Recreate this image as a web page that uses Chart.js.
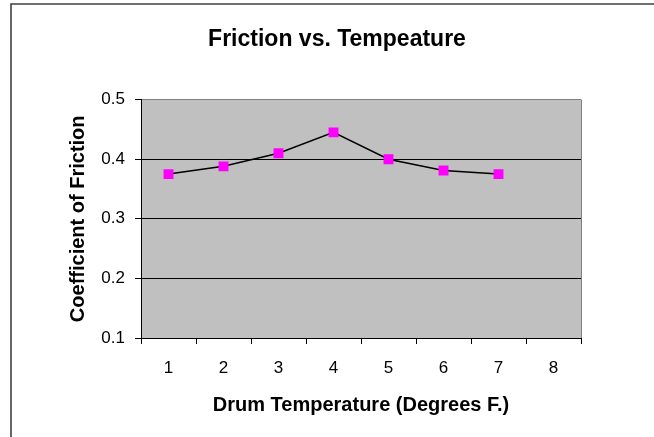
<!DOCTYPE html>
<html>
<head>
<meta charset="utf-8">
<script src="https://cdn.jsdelivr.net/npm/chart.js@4/dist/chart.umd.min.js"></script>
<style>
  html, body { margin: 0; padding: 0; background: #ffffff; }
  #c { display: block; }
</style>
</head>
<body>
<canvas id="c" width="654" height="437"></canvas>
<script>
// ---- data ----
const categories = ['1', '2', '3', '4', '5', '6', '7', '8'];
const frictionValues = [0.375, 0.388, 0.41, 0.445, 0.40, 0.381, 0.375];
const yTickMin = 0.1;
const yTickMax = 0.5;
const yTickStep = 0.1;
const chartTitle = 'Friction vs. Tempeature';
const xAxisTitle = 'Drum Temperature (Degrees F.)';
const yAxisTitle = 'Coefficient of Friction';

const FONT = '"Liberation Sans", Arial, sans-serif';

const plotBackground = {
  id: 'plotBackground',
  beforeDraw(chart) {
    const { ctx, chartArea: a } = chart;
    ctx.save();
    ctx.fillStyle = '#c0c0c0';
    ctx.fillRect(a.left, a.top, a.right - a.left, a.bottom - a.top);
    ctx.restore();
  },
  afterDraw(chart) {
    const { ctx, chartArea: a } = chart;
    ctx.save();
    // plot area right border (gray)
    ctx.strokeStyle = '#808080';
    ctx.lineWidth = 1;
    ctx.beginPath();
    ctx.moveTo(Math.round(a.right) + 0.5, a.top);
    ctx.lineTo(Math.round(a.right) + 0.5, a.bottom);
    ctx.stroke();
    // outer chart frame
    ctx.strokeStyle = '#404040';
    ctx.lineWidth = 1.6;
    ctx.beginPath();
    ctx.moveTo(11, 700);
    ctx.lineTo(11, 4);
    ctx.lineTo(900, 4);
    ctx.stroke();
    ctx.restore();
  }
};

new Chart(document.getElementById('c'), {
  type: 'line',
  data: {
    labels: categories,
    datasets: [{
      data: frictionValues,
      borderColor: '#000000',
      borderWidth: 1.5,
      pointStyle: 'rect',
      pointRadius: 7,
      pointBackgroundColor: '#ff00ff',
      pointBorderColor: '#ff00ff',
      pointBorderWidth: 0,
      tension: 0,
      fill: false
    }]
  },
  options: {
    responsive: false,
    animation: false,
    devicePixelRatio: 1,
    layout: { padding: { left: 20, right: 0, top: 0, bottom: 0 } },
    plugins: {
      legend: { display: false },
      tooltip: { enabled: false },
      title: {
        display: true,
        text: chartTitle,
        color: '#000000',
        font: { family: FONT, size: 23, weight: 'bold' },
        padding: { top: 26, bottom: 46 }
      }
    },
    scales: {
      x: {
        type: 'category',
        offset: true,
        grid: {
          offset: true,
          drawOnChartArea: false,
          drawTicks: true,
          tickLength: 6,
          color: '#000000'
        },
        border: { display: true, color: '#000000', width: 1 },
        ticks: {
          color: '#000000',
          font: { family: FONT, size: 17 },
          padding: 14,
          maxRotation: 0,
          autoSkip: false
        },
        title: {
          display: true,
          text: xAxisTitle,
          color: '#000000',
          font: { family: FONT, size: 20, weight: 'bold' },
          padding: { top: 0, bottom: 20 }
        },
        afterFit(scale) { scale.height = 99; }
      },
      y: {
        type: 'linear',
        position: 'left',
        min: yTickMin,
        max: yTickMax,
        grid: {
          drawTicks: true,
          tickLength: 6,
          color: (ctx) => (ctx.tick && Math.abs(ctx.tick.value - yTickMax) < 1e-9) ? '#808080' : '#000000',
          tickColor: '#000000'
        },
        border: { display: true, color: '#000000', width: 1 },
        ticks: {
          stepSize: yTickStep,
          color: '#000000',
          font: { family: FONT, size: 17 },
          padding: 10,
          callback: (v) => Number(v).toFixed(1)
        },
        title: {
          display: true,
          text: yAxisTitle,
          color: '#000000',
          font: { family: FONT, size: 20, weight: 'bold' },
          padding: { top: 46, bottom: 0 }
        },
        afterFit(scale) { scale.width = 121; }
      },
      yRightSpace: {
        type: 'linear',
        position: 'right',
        display: true,
        grid: { display: false, drawTicks: false },
        border: { display: false },
        ticks: { display: false },
        afterFit(scale) { scale.width = 73; }
      }
    }
  },
  plugins: [plotBackground]
});
</script>
</body>
</html>
